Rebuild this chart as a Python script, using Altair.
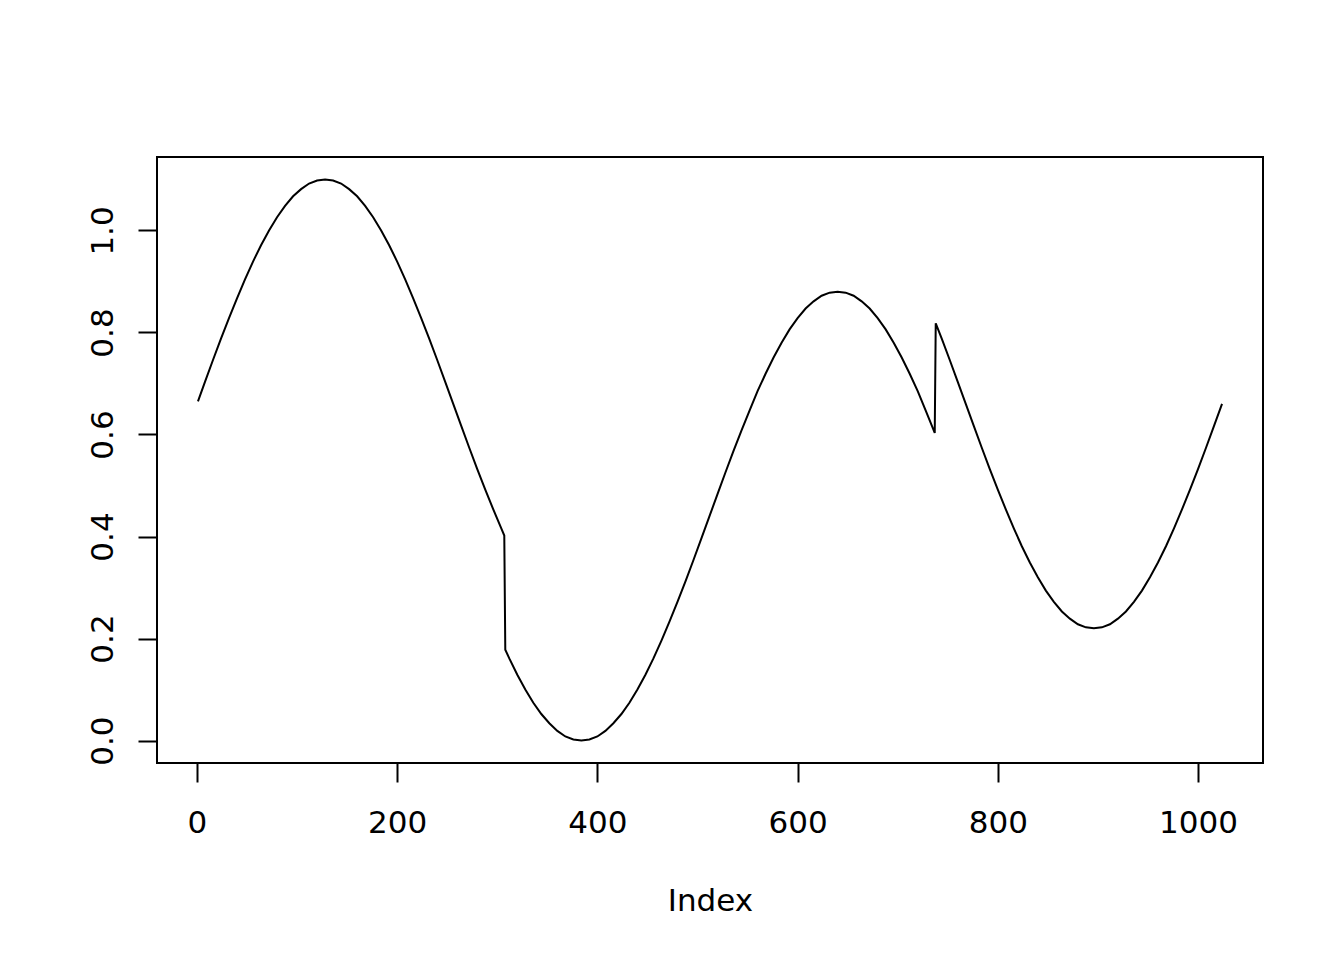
import altair as alt
import pandas as pd

# Values
index = [1, 8, 16, 24, 32, 40, 48, 56, 64, 72, 80, 88, 96, 104, 112, 120, 128,
         136, 144, 152, 160, 168, 176, 184, 192, 200, 208, 216, 224, 232, 240,
         248, 256, 264, 272, 280, 288, 296, 304, 307, 308, 312, 320, 328, 336,
         344, 352, 360, 368, 376, 384, 392, 400, 408, 416, 424, 432, 440, 448,
         456, 464, 472, 480, 488, 496, 504, 512, 520, 528, 536, 544, 552, 560,
         568, 576, 584, 592, 600, 608, 616, 624, 632, 640, 648, 656, 664, 672,
         680, 688, 696, 704, 712, 720, 728, 736, 737, 738, 744, 752, 760, 768,
         776, 784, 792, 800, 808, 816, 824, 832, 840, 848, 856, 864, 872, 880,
         888, 896, 904, 912, 920, 928, 936, 944, 952, 960, 968, 976, 984, 992,
         1000, 1008, 1016, 1024]
value = [0.665, 0.703, 0.746, 0.788, 0.828, 0.867, 0.904, 0.939, 0.971, 1.000,
         1.026, 1.048, 1.067, 1.081, 1.092, 1.098, 1.100,
         1.098, 1.092, 1.081, 1.067, 1.048, 1.026, 1.000, 0.971, 0.939, 0.904,
         0.867, 0.828, 0.788, 0.746,
         0.703, 0.660, 0.617, 0.574, 0.532, 0.492, 0.453, 0.416, 0.402, 0.178,
         0.161, 0.129, 0.100, 0.074,
         0.052, 0.034, 0.019, 0.008, 0.002, 0.000, 0.002, 0.008, 0.019, 0.034,
         0.052, 0.074, 0.100, 0.129,
         0.161, 0.196, 0.233, 0.272, 0.312, 0.354, 0.397, 0.440, 0.483, 0.526,
         0.568, 0.608, 0.647, 0.685,
         0.719, 0.751, 0.780, 0.806, 0.828, 0.847, 0.861, 0.872, 0.878, 0.880,
         0.878, 0.872, 0.861, 0.847,
         0.828, 0.806, 0.780, 0.751, 0.719, 0.685, 0.647, 0.608, 0.603, 0.818,
         0.788, 0.746, 0.703, 0.660,
         0.617, 0.574, 0.532, 0.492, 0.453, 0.416, 0.381, 0.349, 0.320, 0.294,
         0.272, 0.253, 0.239, 0.228,
         0.222, 0.220, 0.222, 0.228, 0.239, 0.253, 0.272, 0.294, 0.320, 0.349,
         0.381, 0.416, 0.453, 0.492,
         0.532, 0.574, 0.617, 0.660]
x_ticks = [0, 200, 400, 600, 800, 1000]
y_ticks = [0.0, 0.2, 0.4, 0.6, 0.8, 1.0]

df = pd.DataFrame({"Index": index, "value": value})

FONT = "DejaVu Sans"
FS = 31

chart = alt.Chart(df).mark_line(color="black", strokeWidth=2).encode(
    x=alt.X(
        "Index:Q",
        scale=alt.Scale(domain=[-39.92, 1064.92], nice=False, zero=False),
        axis=alt.Axis(
            values=x_ticks, format="d", title="Index",
            labelBaseline="alphabetic", labelPadding=50,
            titleBaseline="alphabetic", titleY=147,
        ),
    ),
    y=alt.Y(
        "value:Q",
        scale=alt.Scale(domain=[-0.044, 1.144], nice=False, zero=False),
        axis=alt.Axis(
            values=y_ticks, format=".1f", title=None,
            labelAngle=270, labelAlign="center", labelBaseline="alphabetic",
            labelPadding=26,
        ),
    ),
).properties(
    width=1106,
    height=606,
    autosize=alt.AutoSizeParams(type="none"),
    padding={"left": 149, "top": 149, "right": 60, "bottom": 180},
    background="white",
).configure_view(
    stroke="black", strokeWidth=2, fill="white"
).configure_axis(
    grid=False, domain=False, ticks=True, tickSize=19, tickWidth=2,
    tickColor="black", labelFont=FONT, labelFontSize=FS, labelColor="black",
    titleFont=FONT, titleFontSize=FS, titleFontWeight="normal", titleColor="black",
    labelOverlap=False, labelFlush=False,
)

chart.save("out.html", embed_options={"renderer": "svg", "actions": False})
